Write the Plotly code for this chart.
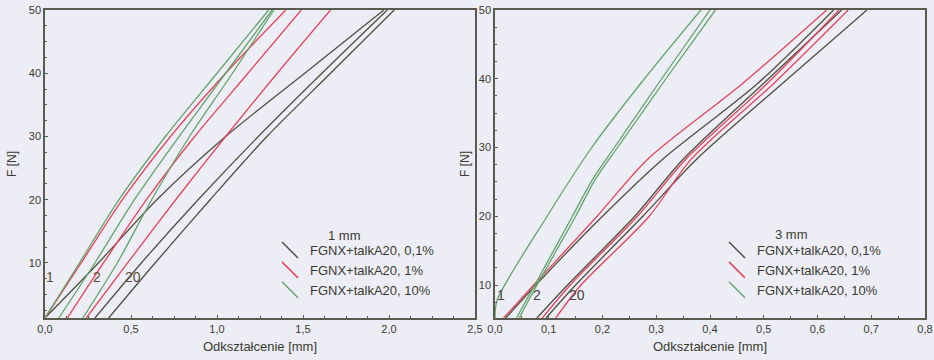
import plotly.graph_objects as go

# ---------------- data ----------------
# Left panel: 1 mm, force levels [N] and displacement [mm] per curve
F_left = [1.3, 10, 20, 30, 40, 50]
L_green1 = [0.00, 0.20, 0.43, 0.70, 1.00, 1.30]
L_red1 = [0.00, 0.21, 0.45, 0.73, 1.05, 1.40]
L_dark1 = [0.00, 0.31, 0.65, 1.05, 1.51, 1.97]
L_green2 = [0.08, 0.29, 0.52, 0.78, 1.05, 1.32]
L_red2 = [0.13, 0.34, 0.59, 0.87, 1.18, 1.49]
L_green20 = [0.22, 0.42, 0.62, 0.84, 1.09, 1.33]
L_red20 = [0.24, 0.48, 0.76, 1.05, 1.35, 1.66]
L_dark2 = [0.29, 0.56, 0.89, 1.24, 1.61, 1.99]
L_dark20 = [0.37, 0.64, 0.96, 1.29, 1.66, 2.03]

# Right panel: 3 mm
F_right_g1 = [5.2, 7.8, 20, 30, 40, 50]
R_green1 = [0.000, 0.004, 0.097, 0.180, 0.278, 0.383]
F_right_g = [5.2, 10, 20, 25.3, 30, 40, 50]
R_green2 = [0.040, 0.074, 0.144, 0.181, 0.222, 0.310, 0.400]
R_green20 = [0.045, 0.078, 0.150, 0.186, 0.228, 0.318, 0.410]
F_right = [5.2, 10, 20, 28.3, 39.2, 50]
R_red1 = [0.016, 0.072, 0.190, 0.284, 0.459, 0.617]
R_dark1 = [0.020, 0.076, 0.200, 0.312, 0.487, 0.630]
R_dark2 = [0.078, 0.135, 0.260, 0.350, 0.498, 0.645]
R_red2 = [0.088, 0.140, 0.265, 0.355, 0.505, 0.640]
R_dark20 = [0.095, 0.150, 0.275, 0.375, 0.533, 0.692]
R_red20 = [0.113, 0.160, 0.287, 0.365, 0.517, 0.657]

series_names = ["FGNX+talkA20, 0,1%", "FGNX+talkA20, 1%", "FGNX+talkA20, 10%"]
panel_titles = ["1 mm", "3 mm"]
cycle_labels = ["1", "2", "20"]
left_label_x = [0.03, 0.30, 0.51]
left_label_F = [7.8, 7.8, 7.8]
right_label_x = [0.012, 0.078, 0.153]
right_label_F = [8.6, 8.6, 8.6]

left_xticks = [0, 0.5, 1.0, 1.5, 2.0, 2.5]
left_xticktext = ["0,0", "0,5", "1,0", "1,5", "2,0", "2,5"]
right_xticks = [0, 0.1, 0.2, 0.3, 0.4, 0.5, 0.6, 0.7, 0.8]
right_xticktext = ["0,0", "0,1", "0,2", "0,3", "0,4", "0,5", "0,6", "0,7", "0,8"]
yticks = [10, 20, 30, 40, 50]

# ---------------- styling ----------------
DARK = "#4f4f42"
RED = "#e6435b"
GREEN = "#62a46c"
TXT = "#3a3a30"
BG = "#ededf5"
AXC = "#5a5a4e"
W, H = 934, 360

fig = go.Figure()

def add_line(x, y, color, xa, ya):
    fig.add_trace(go.Scatter(x=x, y=y, mode="lines", xaxis=xa, yaxis=ya,
                             line=dict(color=color, width=1.3, shape="spline", smoothing=0.8),
                             showlegend=False, hoverinfo="skip"))

for xs, c in [(L_dark1, DARK), (L_dark2, DARK), (L_dark20, DARK),
              (L_red1, RED), (L_red2, RED), (L_red20, RED),
              (L_green1, GREEN), (L_green2, GREEN), (L_green20, GREEN)]:
    add_line(xs, F_left, c, "x", "y")

for xs, ys, c in [(R_dark1, F_right, DARK), (R_dark2, F_right, DARK), (R_dark20, F_right, DARK),
                  (R_red1, F_right, RED), (R_red2, F_right, RED), (R_red20, F_right, RED),
                  (R_green1, F_right_g1, GREEN), (R_green2, F_right_g, GREEN), (R_green20, F_right_g, GREEN)]:
    add_line(xs, ys, c, "x2", "y2")

# legend-only traces with diagonal symbols
for leg, xa, ya in [("legend", "x", "y"), ("legend2", "x2", "y2")]:
    for name, c in zip(series_names, [DARK, RED, GREEN]):
        fig.add_trace(go.Scatter(x=[None], y=[None], mode="markers", xaxis=xa, yaxis=ya,
                                 name=name, legend=leg,
                                 marker=dict(symbol="line-nw", size=16, color=c,
                                             line=dict(color=c, width=1.5))))

# cycle labels
for t, x, y in zip(cycle_labels, left_label_x, left_label_F):
    fig.add_annotation(x=x, y=y, xref="x", yref="y", text=t, showarrow=False,
                       font=dict(size=14, color="#5e4a3e", family="Arial"), xanchor="center")
for t, x, y in zip(cycle_labels, right_label_x, right_label_F):
    fig.add_annotation(x=x, y=y, xref="x2", yref="y2", text=t, showarrow=False,
                       font=dict(size=14, color="#45453a", family="Arial"), xanchor="center")

# panel headers above the legends (placed in each panel's own axes)
fig.add_annotation(x=1.74, y=14.4, xref="x", yref="y", text=panel_titles[0],
                   showarrow=False, font=dict(size=13, color=TXT, family="Arial"),
                   xanchor="center", yanchor="middle")
fig.add_annotation(x=0.551, y=17.3, xref="x2", yref="y2", text=panel_titles[1],
                   showarrow=False, font=dict(size=13, color=TXT, family="Arial"),
                   xanchor="center", yanchor="middle")

base = dict(showgrid=False, zeroline=False, showline=True, linecolor=AXC, linewidth=1.5,
            mirror=True, ticks="inside", ticklen=3, tickcolor=AXC, automargin=False,
            tickfont=dict(size=11, color=TXT, family="Arial"))

def minor(d):
    return dict(ticks="inside", ticklen=2, tickcolor=AXC, dtick=d)

fig.update_layout(
    width=W, height=H, margin=dict(l=0, r=0, t=0, b=0, autoexpand=False),
    paper_bgcolor=BG, plot_bgcolor=BG,
    font=dict(family="Arial", color=TXT),
    xaxis=dict(domain=[45 / W, 475 / W], range=[0, 2.5], tickvals=left_xticks,
               ticktext=left_xticktext, anchor="y", minor=minor(0.125),
               title=dict(text="Odkształcenie [mm]", font=dict(size=13, color=TXT), standoff=8),
               **base),
    yaxis=dict(domain=[1 - 318 / H, 1 - 10 / H], range=[1.3, 50], tickvals=yticks, anchor="x",
               minor=minor(2.5),
               title=dict(text="F [N]", font=dict(size=12, color=TXT), standoff=10),
               **base),
    xaxis2=dict(domain=[495 / W, 925 / W], range=[0, 0.8], tickvals=right_xticks,
                ticktext=right_xticktext, anchor="y2", minor=minor(0.05),
                title=dict(text="Odkształcenie [mm]", font=dict(size=13, color=TXT), standoff=8),
                **base),
    yaxis2=dict(domain=[1 - 318 / H, 1 - 10 / H], range=[5.2, 50], tickvals=yticks, anchor="x2",
                minor=minor(2.5),
                title=dict(text="F [N]", font=dict(size=12, color=TXT), standoff=7),
                **base),
    legend=dict(x=270 / W, y=1 - 270 / H, xanchor="left", yanchor="middle",
                bgcolor="rgba(0,0,0,0)", font=dict(size=13, color=TXT),
                tracegroupgap=0, itemwidth=30),
    legend2=dict(x=717 / W, y=1 - 270 / H, xanchor="left", yanchor="middle",
                 bgcolor="rgba(0,0,0,0)", font=dict(size=13, color=TXT),
                 tracegroupgap=0, itemwidth=30),
)

fig.write_html("out.html")
